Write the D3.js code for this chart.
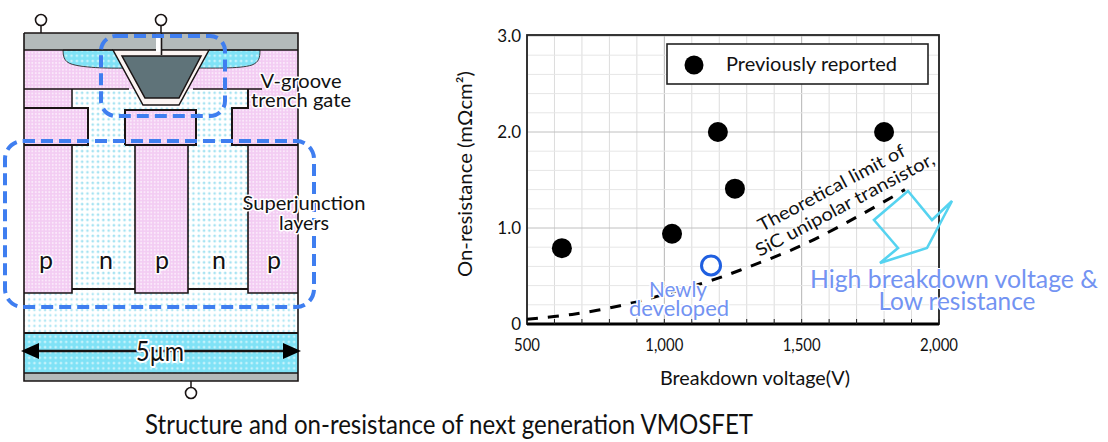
<!DOCTYPE html>
<html>
<head>
<meta charset="utf-8">
<script src="https://cdn.jsdelivr.net/npm/d3@7"></script>
<style>
  html, body { margin: 0; padding: 0; background: #fff; }
  text { font-family: Lato, "Open Sans", sans-serif; fill: #111; }
</style>
</head>
<body>
<svg id="chart" width="1108" height="442"></svg>
<script>
// chart values
var reportedVoltage = [627, 1028, 1195, 1257, 1800];
var reportedResistance = [0.79, 0.94, 2.0, 1.41, 2.0];
var newVoltage = [1170];
var newResistance = [0.61];
var limitVoltage = [500, 664, 839, 1002, 1188, 1275, 1494, 1698, 1876];
var limitResistance = [0.05, 0.10, 0.19, 0.31, 0.47, 0.56, 0.81, 1.11, 1.40];
var xTickValues = [500, 1000, 1500, 2000];
var xTickLabels = ["500", "1,000", "1,500", "2,000"];
var yTickValues = [0, 1, 2, 3];
var yTickLabels = ["0", "1.0", "2.0", "3.0"];
var xMinor = d3.range(500, 2001, 100);
var yMinor = d3.range(0, 3.01, 0.2);

var svg = d3.select("#chart");
var defs = svg.append("defs");

function dotPattern(id, bg, dot, size, r) {
  var p = defs.append("pattern").attr("id", id).attr("width", size).attr("height", size)
    .attr("patternUnits", "userSpaceOnUse");
  p.append("rect").attr("width", size).attr("height", size).attr("fill", bg);
  p.append("circle").attr("cx", size / 2).attr("cy", size / 2).attr("r", r).attr("fill", dot);
}
dotPattern("pink", "#f3ccf3", "#fbeafb", 3.4, 1.0);
dotPattern("ndots", "#ffffff", "#a6e3f2", 5.3, 1.35);
dotPattern("drift", "#ffffff", "#b4e8f4", 5.3, 1.25);
dotPattern("cyan", "#7fe2f6", "#c4f2fb", 5.3, 1.35);

// ---- device cross section ----
var dev = svg.append("g");

function rect(x0, y0, x1, y1, fill) {
  return dev.append("rect").attr("x", x0).attr("y", y0)
    .attr("width", x1 - x0).attr("height", y1 - y0).attr("fill", fill);
}
function poly(pts, fill, stroke, w) {
  return dev.append("path").attr("d", d3.line()(pts) + "Z").attr("fill", fill)
    .attr("stroke", stroke || "none").attr("stroke-width", w || 0);
}
function wire(pts, w) {
  return dev.append("path").attr("d", d3.line()(pts)).attr("fill", "none")
    .attr("stroke", "#1a1414").attr("stroke-width", w || 2);
}

rect(24, 50, 298, 145, "url(#pink)");
rect(72, 89, 248, 145, "url(#ndots)");
rect(24, 89, 72, 108, "url(#pink)");
rect(24, 108, 88, 145, "url(#pink)");
rect(232, 108, 298, 145, "url(#pink)");
rect(248, 89, 298, 108, "url(#pink)");
rect(125, 110, 196, 145, "url(#pink)");
rect(24, 145, 298, 293, "url(#ndots)");
rect(24, 289, 298, 333, "url(#drift)");
rect(24, 145, 72, 293, "url(#pink)");
rect(135, 145, 188, 293, "url(#pink)");
rect(248, 145, 298, 293, "url(#pink)");
rect(24, 333, 298, 373, "url(#cyan)");
rect(24, 373, 298, 381, "#b3baba");
rect(24, 33, 298, 50, "#b3baba");

// source wells
dev.append("path")
  .attr("d", "M63,50 C63,62 68,64 80,66 C100,69 125,68 135,68 L190,68 C210,68 240,69 252,65 C259,62 260,58 260,50 Z")
  .attr("fill", "url(#cyan)").attr("stroke", "#1a1414").attr("stroke-width", 0.8);

// trench gate
poly([[113, 50], [209, 50], [179, 105], [143, 105]], "#fbf4f2", "#1a1414", 1.5);
poly([[122, 56], [201, 56], [179, 98], [145, 98]], "#5f7379", "#1a1414", 1.5);
rect(156, 33, 161, 52, "#ffffff");
wire([[161.5, 33], [161.5, 55]], 1.6);

// outlines
wire([[24, 33], [298, 33], [298, 381], [24, 381], [24, 33]], 1.6);
wire([[24, 50], [113, 50]], 1.5);
wire([[209, 50], [298, 50]], 1.5);
wire([[24, 89], [129, 89]], 1.5);
wire([[193, 89], [262, 89]], 1.5);
wire([[72, 89], [72, 108]], 1.5);
wire([[24, 108], [88, 108], [88, 145], [24, 145]], 2);
wire([[298, 145], [232, 145], [232, 108], [248, 108], [248, 89]], 2);
wire([[125, 145], [125, 110], [196, 110], [196, 145], [125, 145]], 2);
wire([[72, 145], [72, 293], [24, 293]], 1.6);
wire([[135, 145], [135, 293], [188, 293], [188, 145]], 1.6);
wire([[248, 145], [248, 293], [298, 293]], 1.6);
wire([[72, 289], [135, 289]], 1.8);
wire([[188, 289], [248, 289]], 1.8);
wire([[24, 333], [298, 333]], 2);
wire([[24, 373], [298, 373]], 1.5);

// terminals
var terminals = [[41, 20, 26, 33], [161, 20, 26, 33], [191, 393, 381, 387]];
terminals.forEach(function (t) {
  wire([[t[0], t[2]], [t[0], t[3]]], 1.5);
  dev.append("circle").attr("cx", t[0]).attr("cy", t[1]).attr("r", 5.5)
    .attr("fill", "#fff").attr("stroke", "#1a1414").attr("stroke-width", 1.6);
});

// 5um arrow
wire([[36, 351], [286, 351]], 2.5);
poly([[21, 351], [39, 343], [39, 359]], "#000");
poly([[301, 351], [283, 343], [283, 359]], "#000");

function label(parent, x, y, str, size, opts) {
  opts = opts || {};
  var t = parent.append("text").attr("x", x).attr("y", y).text(str)
    .attr("font-size", size).attr("text-anchor", opts.anchor || "middle");
  if (opts.fill) t.style("fill", opts.fill);
  if (opts.halo) t.attr("stroke", "#fff").attr("stroke-width", opts.halo)
    .attr("paint-order", "stroke").attr("stroke-linejoin", "round");
  if (opts.len) t.attr("textLength", opts.len).attr("lengthAdjust", "spacingAndGlyphs");
  return t;
}

var regionLabels = ["p", "n", "p", "n", "p"];
var regionX = [46, 106, 162, 219, 274];
regionLabels.forEach(function (d, i) {
  label(dev, regionX[i], 269, d, 25, { halo: 3 });
});
label(dev, 160, 361, "5µm", 26, { halo: 4, len: 48 });

// dashed callouts
dev.append("rect").attr("x", 101).attr("y", 36).attr("width", 124).attr("height", 80).attr("rx", 15)
  .attr("fill", "none").attr("stroke", "#3f7ef0").attr("stroke-width", 4).attr("stroke-dasharray", "12 6");
dev.append("rect").attr("x", 5).attr("y", 141).attr("width", 309).attr("height", 166).attr("rx", 18)
  .attr("fill", "none").attr("stroke", "#3f7ef0").attr("stroke-width", 4).attr("stroke-dasharray", "12 6");

label(dev, 301, 88, "V-groove", 19, { halo: 3, len: 81 });
label(dev, 301, 107, "trench gate", 19, { halo: 3, len: 100 });
label(dev, 304, 210, "Superjunction", 19, { halo: 3, len: 123 });
label(dev, 304, 230, "layers", 19, { halo: 3, len: 50 });

// ---- scatter chart ----
var x = d3.scaleLinear().domain([500, 2000]).range([527, 939]);
var y = d3.scaleLinear().domain([0, 3]).range([324, 36]);
var plot = svg.append("g");

plot.selectAll(".vgrid").data(xMinor).enter().append("line")
  .attr("x1", d => x(d)).attr("x2", d => x(d)).attr("y1", y(3)).attr("y2", y(0))
  .attr("stroke", d => d % 500 === 0 ? "#b5b5b5" : "#dcdcdc").attr("stroke-width", 1);
plot.selectAll(".hgrid").data(yMinor).enter().append("line")
  .attr("x1", x(500)).attr("x2", x(2000)).attr("y1", d => y(d)).attr("y2", d => y(d))
  .attr("stroke", d => Math.abs(d - Math.round(d)) < 0.01 ? "#c0c0c0" : "#e6e6e6").attr("stroke-width", 1);

// frame and axes
plot.append("rect").attr("x", x(500)).attr("y", y(3) - 1).attr("width", x(2000) - x(500)).attr("height", y(0) - y(3) + 1)
  .attr("fill", "none").attr("stroke", "#222").attr("stroke-width", 1.8);
plot.append("line").attr("x1", x(500)).attr("x2", x(2000)).attr("y1", y(0)).attr("y2", y(0))
  .attr("stroke", "#000").attr("stroke-width", 3);
plot.selectAll(".xminor").data(xMinor).enter().append("line")
  .attr("x1", d => x(d)).attr("x2", d => x(d)).attr("y1", y(0)).attr("y2", y(0) - 5)
  .attr("stroke", "#222").attr("stroke-width", 1);

xTickValues.forEach(function (d, i) {
  label(plot, x(d), 351, xTickLabels[i], 17, { len: xTickLabels[i].length > 3 ? 38 : 26 });
});
yTickValues.forEach(function (d, i) {
  label(plot, 521, y(d) + 6, yTickLabels[i], 17, { anchor: "end" });
});
label(plot, 755, 385, "Breakdown voltage(V)", 19, { len: 190 });
label(plot, 0, 0, "On-resistance (mΩcm²)", 19, { len: 206 })
  .attr("transform", "translate(472,174) rotate(-90)");

// theoretical limit
var limitLine = d3.line().x(d => x(d[0])).y(d => y(d[1])).curve(d3.curveCatmullRom);
plot.append("path").datum(d3.zip(limitVoltage, limitResistance))
  .attr("d", limitLine).attr("fill", "none").attr("stroke", "#000")
  .attr("stroke-width", 3).attr("stroke-dasharray", "11 10");

// points
plot.selectAll(".reported").data(d3.zip(reportedVoltage, reportedResistance)).enter().append("circle")
  .attr("cx", d => x(d[0])).attr("cy", d => y(d[1])).attr("r", 10).attr("fill", "#000");
plot.selectAll(".newdev").data(d3.zip(newVoltage, newResistance)).enter().append("circle")
  .attr("cx", d => x(d[0])).attr("cy", d => y(d[1])).attr("r", 9.5)
  .attr("fill", "#fff").attr("stroke", "#1f5fe0").attr("stroke-width", 3);

// legend
plot.append("rect").attr("x", 667).attr("y", 44).attr("width", 261).attr("height", 40)
  .attr("fill", "#fff").attr("stroke", "#222").attr("stroke-width", 1.6);
plot.append("circle").attr("cx", 694).attr("cy", 65).attr("r", 9.5).attr("fill", "#000");
label(plot, 726, 71, "Previously reported", 20, { anchor: "start", len: 171 });

// annotations
var limitNote = plot.append("g").attr("transform", "translate(762,232) rotate(-28)");
label(limitNote, 0, 0, "Theoretical limit of", 18, { anchor: "start", halo: 2, len: 164 });
label(limitNote, -14, 21, "SiC unipolar transistor,", 18, { anchor: "start", halo: 2, len: 200 });

label(plot, 678, 297, "Newly", 21, { fill: "#7393f2", halo: 3, len: 58 });
label(plot, 679, 316, "developed", 21, { fill: "#7393f2", halo: 3, len: 100 });
label(plot, 954, 288, "High breakdown voltage &", 25, { fill: "#7393f2", halo: 2, len: 288 });
label(plot, 957, 310, "Low resistance", 25, { fill: "#7393f2", halo: 2, len: 157 });

plot.append("path")
  .attr("d", d3.line()([[908, 191], [932, 220], [952, 201], [927, 248], [880, 263], [898, 248], [874, 220]]) + "Z")
  .attr("fill", "none").attr("stroke", "#55d3f0").attr("stroke-width", 2.6);

// caption
label(svg, 145, 434, "Structure and on-resistance of next generation VMOSFET", 26, { anchor: "start", len: 608 });
</script>
</body>
</html>
